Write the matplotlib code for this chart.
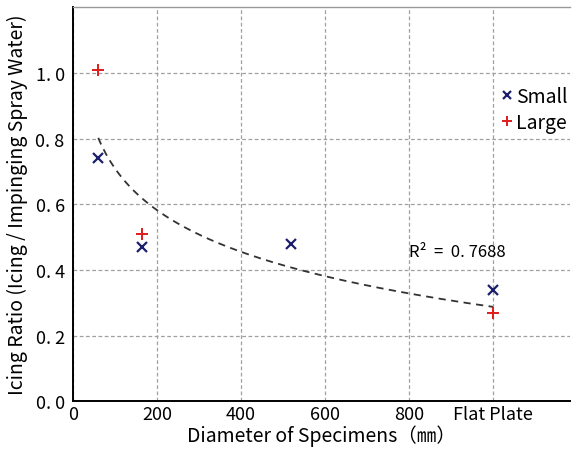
import numpy as np
import matplotlib
matplotlib.use('Agg')
import matplotlib.pyplot as plt

plt.rcParams['font.family'] = ['Noto Sans CJK JP', 'DejaVu Sans']

# data (Flat Plate placed at x=1000)
small_x = [60, 165, 520, 1000]
small_y = [0.74, 0.47, 0.48, 0.34]
large_x = [60, 165, 1000]
large_y = [1.01, 0.51, 0.27]

xticks = [0, 200, 400, 600, 800, 1000]
xtick_labels = ['0', '200', '400', '600', '800', 'Flat Plate']
yticks = [0.0, 0.2, 0.4, 0.6, 0.8, 1.0]
ytick_labels = ['0. 0', '0. 2', '0. 4', '0. 6', '0. 8', '1. 0']
r2_text = 'R\u00b2  =  0. 7688'

# logarithmic trend line over all points
all_x = np.array(small_x + large_x, dtype=float)
all_y = np.array(small_y + large_y)
a, b = np.polyfit(np.log(all_x), all_y, 1)
fx = np.linspace(all_x.min(), all_x.max(), 200)
fy = a*np.log(fx) + b

fig = plt.figure(figsize=(5.75, 4.56), dpi=100)
ax = fig.add_axes([0.127, 0.118, 0.864, 0.864])

ax.plot(fx, fy, color='#333333', lw=1.3, ls=(0, (4, 3)), zorder=2)
ax.plot(small_x, small_y, 'x', color='#1c1f6b', ms=7.5, mew=1.6, ls='none', label='Small', zorder=3)
ax.plot(large_x, large_y, '+', color='#e01b1b', ms=9, mew=1.4, ls='none', label='Large', zorder=3)

ax.set_xlim(0, 1183)
ax.set_ylim(0, 1.2)
ax.set_xticks(xticks)
ax.set_xticklabels(xtick_labels)
ax.set_yticks(yticks)
ax.set_yticklabels(ytick_labels)
ax.tick_params(length=0, labelsize=13)
ax.tick_params(axis='x', pad=3)
ax.tick_params(axis='y', pad=6)
ax.grid(True, color='#a0a0a0', ls=(0, (3, 2)), lw=0.9)
ax.set_axisbelow(True)

for s in ['left', 'bottom']:
    ax.spines[s].set_linewidth(1.4)
    ax.spines[s].set_color('black')
ax.spines['top'].set_color('#999999')
ax.spines['top'].set_linewidth(1.0)
ax.spines['right'].set_visible(False)

ax.set_xlabel('Diameter of Specimens（㎜）', fontsize=14, labelpad=1)
ax.set_ylabel('Icing Ratio (Icing / Impinging Spray Water)', fontsize=14, labelpad=5)

ax.text(800, 0.456, r2_text, fontsize=12, va='center', ha='left')

ax.legend(loc='upper left', bbox_to_anchor=(0.845, 0.825), frameon=False,
          fontsize=14, handlelength=0.5, handletextpad=0.2, borderpad=0, labelspacing=0.25,
          markerscale=0.8)

plt.savefig('out.png', dpi=100)
